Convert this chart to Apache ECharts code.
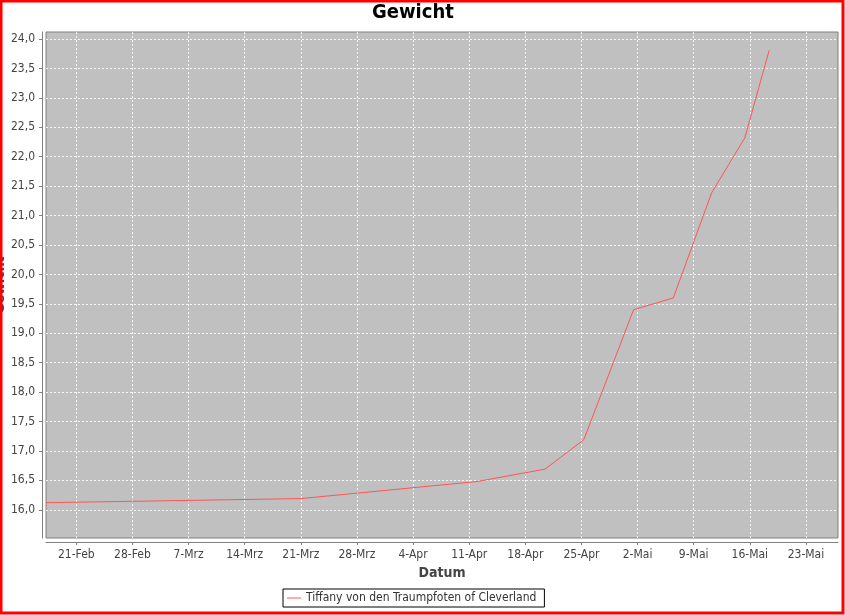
<!DOCTYPE html>
<html>
<head>
<meta charset="utf-8">
<script src="https://cdn.jsdelivr.net/npm/echarts@6/dist/echarts.min.js"></script>
<style>
html,body{margin:0;padding:0;background:#fff;}
#chart{width:845px;height:615px;}
</style>
</head>
<body>
<div id="chart"></div>
<script>
// ---- data ----
const seriesName = 'Tiffany von den Traumpfoten of Cleverland';
const yAxisTitle = 'Gewicht';
const dates = ['2010-02-17T05:15', '2010-03-21T00:00', '2010-04-12T00:00', '2010-04-20T11:00', '2010-04-25T07:00',
               '2010-05-01T12:00', '2010-05-06T11:00', '2010-05-11T06:00', '2010-05-15T09:00', '2010-05-18T10:00'];
const weights = [16.12, 16.19, 16.48, 16.69, 17.19, 19.40, 19.60, 21.39, 22.32, 23.81];
const xTickDates = ['2010-02-21', '2010-02-28', '2010-03-07', '2010-03-14', '2010-03-21', '2010-03-28', '2010-04-04',
                    '2010-04-11', '2010-04-18', '2010-04-25', '2010-05-02', '2010-05-09', '2010-05-16', '2010-05-23'];
const xTickLabels = ['21-Feb', '28-Feb', '7-Mrz', '14-Mrz', '21-Mrz', '28-Mrz', '4-Apr',
                     '11-Apr', '18-Apr', '25-Apr', '2-Mai', '9-Mai', '16-Mai', '23-Mai'];
const yTicks = [16.0, 16.5, 17.0, 17.5, 18.0, 18.5, 19.0, 19.5, 20.0, 20.5, 21.0, 21.5, 22.0, 22.5, 23.0, 23.5, 24.0];
const xRange = ['2010-02-17T05:15', '2010-05-27T00:00'];
const yRange = [15.52, 24.12];

function toMs(s) { return Date.parse(s + (s.length <= 10 ? 'T00:00:00Z' : ':00Z')); }
const xTickValues = xTickDates.map(toMs);
const seriesData = dates.map((d, i) => [toMs(d), weights[i]]);

const FONT = "'DejaVu Sans Condensed', 'Liberation Sans', sans-serif";
const chart = echarts.init(document.getElementById('chart'), null, {renderer: 'canvas'});
chart.setOption({
  animation: false,
  backgroundColor: '#ffffff',
  textStyle: {fontFamily: FONT},
  grid: {left: 46, top: 32, right: 7, bottom: 77, show: true, backgroundColor: '#C0C0C0', borderColor: '#808080', borderWidth: 1,
         containLabel: false, outerBoundsMode: 'none'},
  legend: {
    left: 283, top: 589, padding: [3, 8, 3, 4],
    borderColor: '#000', borderWidth: 1, icon: 'rect', itemWidth: 14, itemHeight: 1,
    textStyle: {fontFamily: FONT, fontSize: 12, color: '#333'},
    data: [seriesName]
  },
  xAxis: {
    type: 'value', min: toMs(xRange[0]), max: toMs(xRange[1]), offset: 4,
    name: 'Datum', nameLocation: 'middle', nameGap: 24,
    nameTextStyle: {fontFamily: FONT, fontSize: 14, fontWeight: 'bold', color: '#444'},
    axisLine: {lineStyle: {color: '#808080'}},
    axisTick: {length: 3, lineStyle: {color: '#808080'}, customValues: xTickValues},
    axisLabel: {customValues: xTickValues, margin: 7, fontSize: 12, color: '#444',
      formatter: v => { const i = xTickValues.indexOf(v); return i >= 0 ? xTickLabels[i] : ''; }},
    splitLine: {show: true, lineStyle: {color: '#ffffff', type: [2, 2], width: 1, opacity: 0.85}}
  },
  yAxis: {
    type: 'value', min: yRange[0], max: yRange[1], offset: 4,
    axisLine: {show: true, lineStyle: {color: '#808080'}},
    axisTick: {show: true, length: 3, lineStyle: {color: '#808080'}, customValues: yTicks},
    axisLabel: {customValues: yTicks, margin: 7, fontSize: 12, color: '#444',
      formatter: v => v.toFixed(1).replace('.', ',')},
    splitLine: {show: true, lineStyle: {color: '#ffffff', type: [2, 2], width: 1, opacity: 0.85}}
  },
  graphic: [
    {type: 'text', left: 414 - 42, top: 3, style: {text: 'Gewicht', fontFamily: FONT, fontSize: 20, fontWeight: 'bold', fill: '#000'}},
    {type: 'text', x: 0, y: 285, rotation: Math.PI / 2, z: 50,
     style: {text: yAxisTitle, align: 'center', verticalAlign: 'middle', fontFamily: FONT, fontSize: 14, fontWeight: 'bold', fill: '#444'}},
    {type: 'rect', shape: {x: 1, y: 1, width: 842, height: 612}, style: {fill: 'none', stroke: '#ff0000', lineWidth: 3}, z: 100}
  ],
  series: [{
    name: seriesName, type: 'line', data: seriesData, showSymbol: false, symbol: 'none',
    lineStyle: {color: '#FF5555', width: 1}, itemStyle: {color: '#FF5555'}, clip: true
  }]
});
</script>
</body>
</html>
